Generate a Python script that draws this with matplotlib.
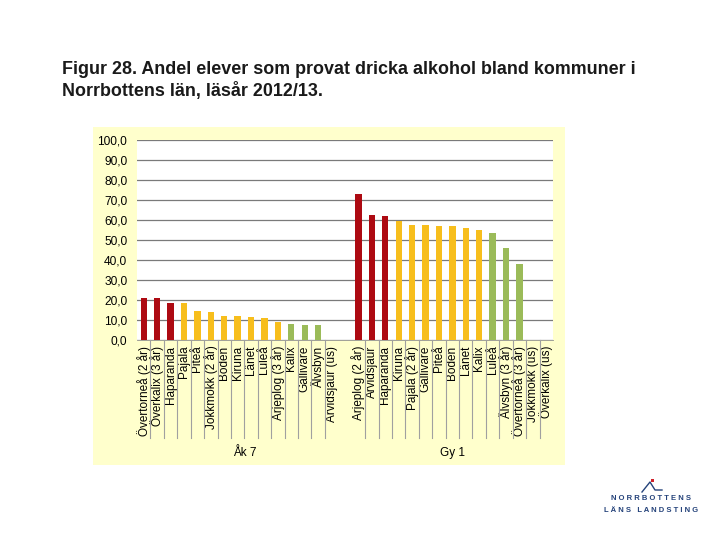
import matplotlib.pyplot as plt
from matplotlib.patches import Rectangle
from matplotlib.lines import Line2D

plt.rcParams['font.family'] = ['Liberation Sans', 'DejaVu Sans']

# Åk 7
ak7_names = ['Övertorneå (2 år)', 'Överkalix (3 år)', 'Haparanda', 'Pajala', 'Piteå',
             'Jokkmokk (2 år)', 'Boden', 'Kiruna', 'Länet', 'Luleå', 'Arjeplog (3 år)',
             'Kalix', 'Gällivare', 'Älvsbyn', 'Arvidsjaur (us)']
ak7_vals = [21.2, 21.2, 18.7, 18.7, 14.7, 14.2, 12.2, 12.2, 11.7, 10.8, 9.2, 8.2, 7.7, 7.3, 0]
ak7_grp = ['r', 'r', 'r', 'y', 'y', 'y', 'y', 'y', 'y', 'y', 'y', 'g', 'g', 'g', 'g']

# Gy 1
gy1_names = ['Arjeplog (2 år)', 'Arvidsjaur', 'Haparanda', 'Kiruna', 'Pajala (2 år)',
             'Gällivare', 'Piteå', 'Boden', 'Länet', 'Kalix', 'Luleå', 'Älvsbyn (3 år)',
             'Övertorneå (3 år)', 'Jokkmokk (us)', 'Överkalix (us)']
gy1_vals = [73.0, 62.7, 62.2, 59.5, 57.7, 57.7, 57.0, 57.0, 56.0, 55.0, 53.5, 46.0, 38.0, 0, 0]
gy1_grp = ['r', 'r', 'r', 'y', 'y', 'y', 'y', 'y', 'y', 'y', 'g', 'g', 'g', 'g', 'g']

colors = {'r': '#AD0A12', 'y': '#F7BE1C', 'g': '#9BBB59'}

names = ak7_names + [''] + gy1_names
vals = ak7_vals + [0] + gy1_vals
grp = ak7_grp + ['g'] + gy1_grp
xs = list(range(len(names)))

fig = plt.figure(figsize=(7.2, 5.4), dpi=100)
fig.patch.set_facecolor('white')

# yellow chart panel as a background axes
bg = fig.add_axes([93 / 720, 1 - 465 / 540, 472 / 720, 338 / 540], zorder=0)
bg.set_facecolor('#FFFFCC')
bg.set_xticks([])
bg.set_yticks([])
for s in bg.spines.values():
    s.set_visible(False)

ax = fig.add_axes([137 / 720, 1 - 340 / 540, 416 / 720, 200 / 540], zorder=2)
ax.set_facecolor('white')
ax.bar(xs, vals, width=0.47, color=[colors[g] for g in grp], zorder=3)
ax.set_xlim(-0.5, len(names) - 0.5)
ax.set_ylim(0, 100)
ax.set_yticks(range(0, 101, 10))
ax.set_yticklabels(['%d,0' % v for v in range(0, 101, 10)], fontsize=8.6)
ax.yaxis.grid(True, color='#7A7A7A', linewidth=0.9, zorder=1)
ax.tick_params(axis='y', length=0, pad=7)
ax.set_xticks(xs)
ax.set_xticklabels(names, rotation=90, fontsize=8.5)
ax.tick_params(axis='x', length=0, pad=4)
for s in ['top', 'right', 'left']:
    ax.spines[s].set_visible(False)
ax.spines['bottom'].set_color('#909090')
ax.spines['bottom'].set_linewidth(0.6)

# category separators below the axis
for i in range(len(names) - 1):
    if i in (14, 15):
        continue
    xf = 137 + (i + 1) * 416 / len(names)
    fig.lines.append(Line2D([xf / 720, xf / 720], [1 - 340 / 540, 1 - 438 / 540],
                            transform=fig.transFigure, color='#A0A0A0', linewidth=0.8,
                            zorder=3))

fig.text(245 / 720, 1 - 453 / 540, 'Åk 7', fontsize=8.5, ha='center', va='center')
fig.text(452 / 720, 1 - 453 / 540, 'Gy 1', fontsize=8.5, ha='center', va='center')

fig.text(62 / 720, 1 - 70 / 540, 'Figur 28. Andel elever som provat dricka alkohol bland kommuner i',
         fontsize=12.9, fontweight='bold', va='center', color='#1A1A1A')
fig.text(62 / 720, 1 - 91 / 540, 'Norrbottens län, läsår 2012/13.',
         fontsize=12.9, fontweight='bold', va='center', color='#1A1A1A')

# logo
fig.text(651 / 720, 1 - 499 / 540, 'N O R R B O T T E N S', fontsize=5.5, fontweight='bold',
         ha='center', va='center', color='#24427A')
fig.text(651 / 720, 1 - 511 / 540, 'L Ä N S   L A N D S T I N G', fontsize=5.5, fontweight='bold',
         ha='center', va='center', color='#24427A')
fig.lines.append(Line2D([642 / 720, 650 / 720, 655 / 720, 662 / 720],
                        [1 - 492 / 540, 1 - 482 / 540, 1 - 490 / 540, 1 - 490 / 540],
                        transform=fig.transFigure, color='#24427A', linewidth=1))
fig.patches.append(Rectangle((651 / 720, 1 - 482 / 540), 3 / 720, 3 / 540,
                             transform=fig.transFigure, facecolor='#D0202A', edgecolor='none'))

fig.savefig('out.png', dpi=100)
